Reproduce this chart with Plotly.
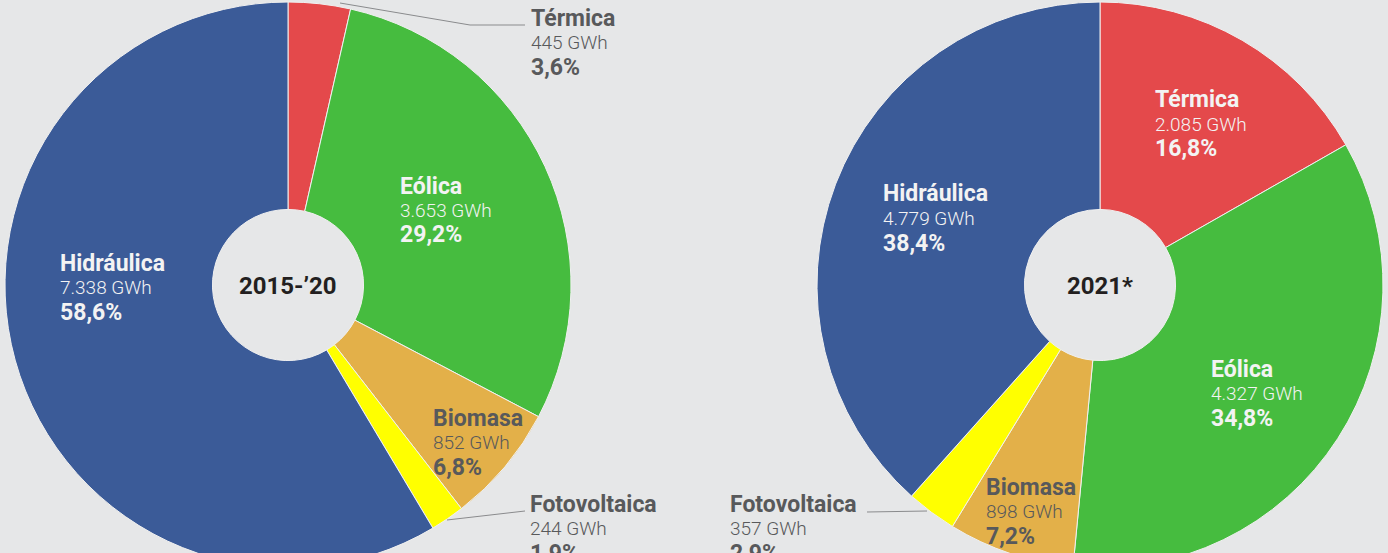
import plotly.graph_objects as go

# ---------------- data ----------------
categories = ["Térmica", "Eólica", "Biomasa", "Fotovoltaica", "Hidráulica"]
gwh_2015_20 = [445, 3653, 852, 244, 7338]
pct_2015_20 = [3.6, 29.2, 6.8, 1.9, 58.6]
gwh_2021 = [2085, 4327, 898, 357, 4779]
pct_2021 = [16.8, 34.8, 7.2, 2.9, 38.4]
period_labels = ["2015-’20", "2021*"]

# ---------------- style ----------------
colors = ["#E4494B", "#46BC3F", "#E3B049", "#FFFF00", "#3B5B98"]
BG = "#E6E7E8"
W, H = 1388, 600
FONT = "Roboto, Liberation Sans, sans-serif"
LIGHT = "#F3F3F3"
DARK = "#58595B"

# label placement (px, left edge x, y of first line centre) and colour per slice
label_pos = [
    {  # 2015-'20
        "Térmica": (531, 17, DARK),
        "Eólica": (400, 185, LIGHT),
        "Biomasa": (433, 417, DARK),
        "Fotovoltaica": (530, 503, DARK),
        "Hidráulica": (60, 262, LIGHT),
    },
    {  # 2021
        "Térmica": (1155, 99, LIGHT),
        "Eólica": (1211, 368, LIGHT),
        "Biomasa": (986, 486, DARK),
        "Fotovoltaica": (730, 503, DARK),
        "Hidráulica": (883, 193, LIGHT),
    },
]
centers = [(288, 285), (1100, 285)]
R = 283


def px_x(x):
    return x / W


def px_y(y):
    return 1 - y / H


def fmt_gwh(v):
    return f"{v:,}".replace(",", ".") + " GWh"


def fmt_pct(p):
    return f"{p:.1f}".replace(".", ",") + "%"


fig = go.Figure()
for i, (vals, (cx, cy)) in enumerate(zip([gwh_2015_20, gwh_2021], centers)):
    fig.add_trace(go.Pie(
        labels=categories,
        values=vals,
        sort=False,
        direction="clockwise",
        rotation=0,
        hole=0.267,
        textinfo="none",
        hoverinfo="skip",
        showlegend=False,
        marker=dict(colors=colors, line=dict(color="#F0F0F0", width=1)),
        domain=dict(x=[px_x(cx - R), px_x(cx + R)], y=[px_y(cy + R), px_y(cy - R)]),
    ))

annotations = []
for i, (gwh, pct) in enumerate([(gwh_2015_20, pct_2015_20), (gwh_2021, pct_2021)]):
    for cat, g, p in zip(categories, gwh, pct):
        x, y, col = label_pos[i][cat]
        lines = [(cat, 23, 700), (fmt_gwh(g), 19, 300), (fmt_pct(p), 23, 700)]
        for k, (txt, size, weight) in enumerate(lines):
            annotations.append(dict(
                xref="paper", yref="paper", x=px_x(x - 2), y=px_y(y + 24.5 * k + 1),
                xanchor="left", yanchor="middle", showarrow=False,
                text=txt,
                font=dict(family=FONT, size=size, color=col, weight=weight),
            ))
    cx, cy = centers[i]
    annotations.append(dict(
        xref="paper", yref="paper", x=px_x(cx), y=px_y(cy + 1),
        xanchor="center", yanchor="middle", showarrow=False,
        text=period_labels[i],
        font=dict(family=FONT, size=24, color="#231F20", weight=700),
    ))

# leader lines for the thin outer slices
leaders = [
    [(340, 3), (470, 25), (525, 25)],
    [(447, 520), (525, 511)],
    [(867, 512), (927, 511)],
]
shapes = []
for pts in leaders:
    for (x0, y0), (x1, y1) in zip(pts[:-1], pts[1:]):
        shapes.append(dict(type="line", xref="paper", yref="paper",
                           x0=px_x(x0), y0=px_y(y0), x1=px_x(x1), y1=px_y(y1),
                           line=dict(color="#8A8B8D", width=1)))

fig.update_layout(
    width=W, height=H,
    margin=dict(l=0, r=0, t=0, b=0),
    paper_bgcolor=BG, plot_bgcolor=BG,
    annotations=annotations,
    shapes=shapes,
)

fig.write_html(
    "out.html",
    config={"displayModeBar": False},
    post_script="document.body.style.margin='0';document.body.style.overflow='hidden';"
                "document.documentElement.style.overflow='hidden';"
                "document.body.style.background='" + BG + "';",
)
